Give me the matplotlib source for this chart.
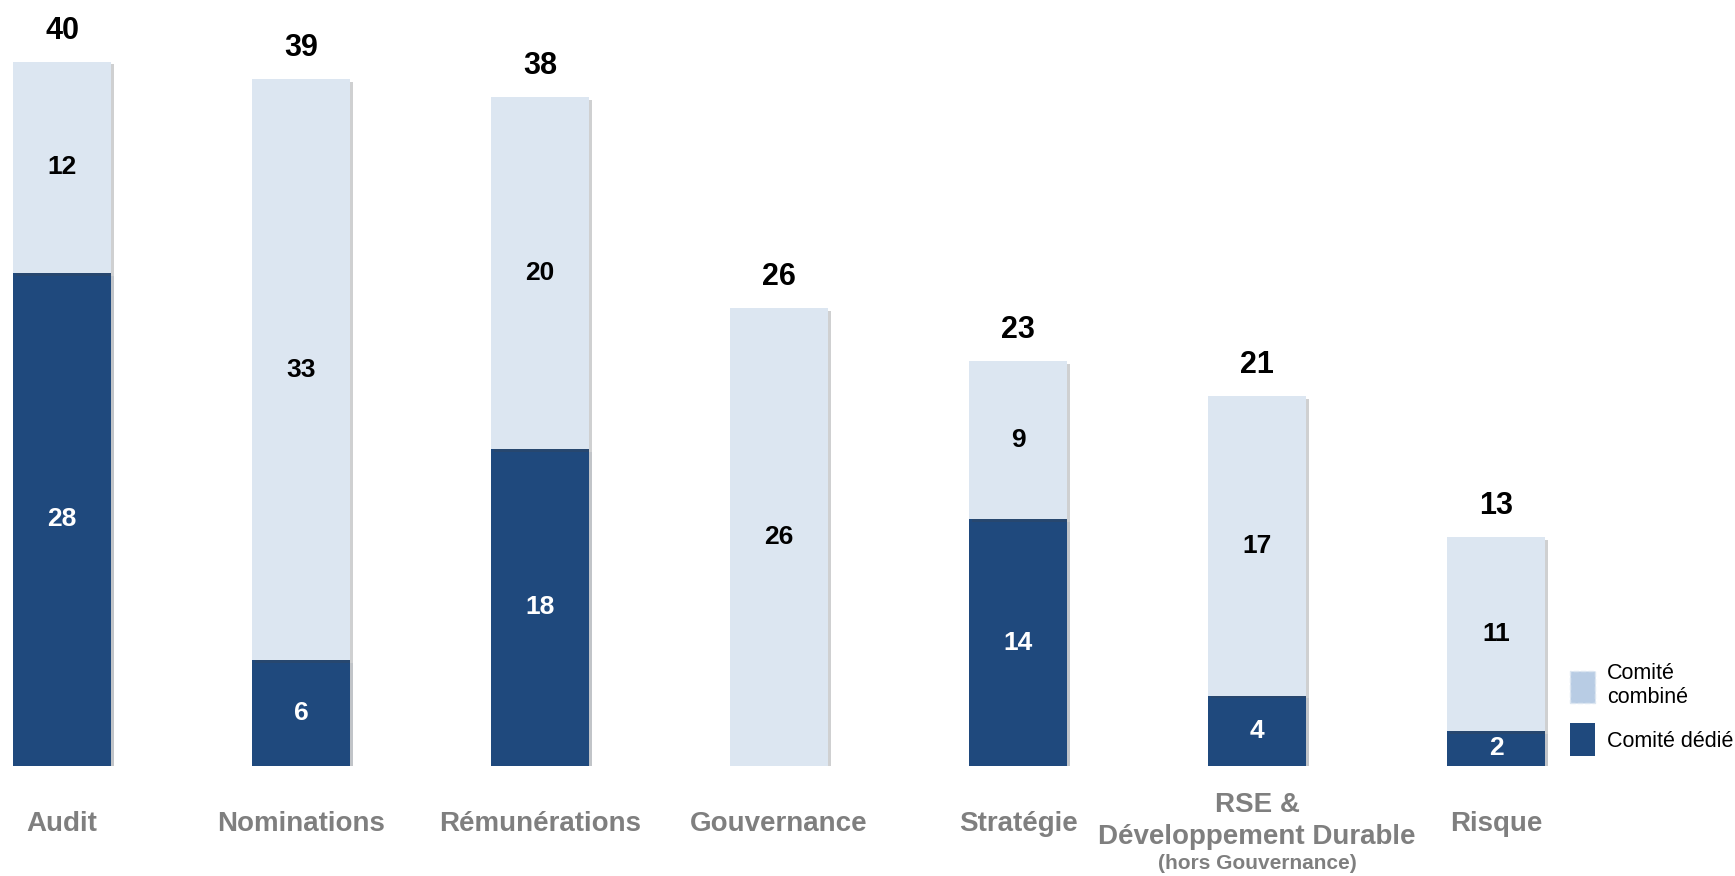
import matplotlib
matplotlib.use('Agg')
import matplotlib.pyplot as plt
import matplotlib.patheffects as pe
from matplotlib.patches import Patch

# data
categories = ['Audit', 'Nominations', 'Rémunérations', 'Gouvernance',
              'Stratégie', 'RSE &\nDéveloppement Durable', 'Risque']
dedie = [28, 6, 18, 0, 14, 4, 2]
combine = [12, 33, 20, 26, 9, 17, 11]
totals = [d + c for d, c in zip(dedie, combine)]

DARK = '#1F497D'
LIGHT = '#DCE6F1'
GREY = '#7F7F7F'
FONT = ['Liberation Sans', 'DejaVu Sans']

fig = plt.figure(figsize=(17.35, 8.76), dpi=100)
ax = fig.add_axes([0, 0.1256, 1, 0.8744])

x = list(range(len(categories)))
shadow = [pe.SimplePatchShadow(offset=(2, -2), alpha=0.25), pe.Normal()]
ax.bar(x, dedie, width=0.41, color=DARK, path_effects=shadow)
ax.bar(x, combine, width=0.41, bottom=dedie, color=LIGHT, path_effects=shadow)

for i in x:
    if dedie[i] > 0:
        ax.text(i, dedie[i] / 2, str(dedie[i]), ha='center', va='center',
                color='white', fontsize=19, fontweight='bold', family=FONT)
    ax.text(i, dedie[i] + combine[i] / 2, str(combine[i]), ha='center', va='center',
            color='black', fontsize=19, fontweight='bold', family=FONT)
    ax.text(i, totals[i] + 1.75, str(totals[i]), ha='center', va='center',
            color='black', fontsize=22, fontweight='bold', family=FONT)

# category labels below the axis
for i, lab in enumerate(categories):
    if '\n' in lab:
        ax.text(i, -3.1, lab, ha='center', va='center', color=GREY, fontsize=20,
                fontweight='bold', family=FONT, linespacing=1.3)
        ax.text(i, -5.55, '(hors Gouvernance)', ha='center', va='center', color=GREY,
                fontsize=15, fontweight='bold', family=FONT)
    else:
        ax.text(i, -3.3, lab, ha='center', va='center', color=GREY, fontsize=20,
                fontweight='bold', family=FONT)

ax.set_xlim(-0.26, 7.0)
ax.set_ylim(0, 43.5)
ax.axis('off')

handles = [Patch(facecolor='#B8CCE4', edgecolor='#DCE6F1', linestyle='--'),
           Patch(facecolor=DARK)]
fig.legend(handles, ['Comité\ncombiné', 'Comité dédié'], loc='upper left',
           bbox_to_anchor=(0.905, 0.243), frameon=False,
           handlelength=1.15, handleheight=1.95, handletextpad=0.55,
           labelspacing=0.7, borderpad=0, borderaxespad=0,
           prop={'family': FONT, 'size': 15.5})

fig.savefig('out.png', dpi=100)
